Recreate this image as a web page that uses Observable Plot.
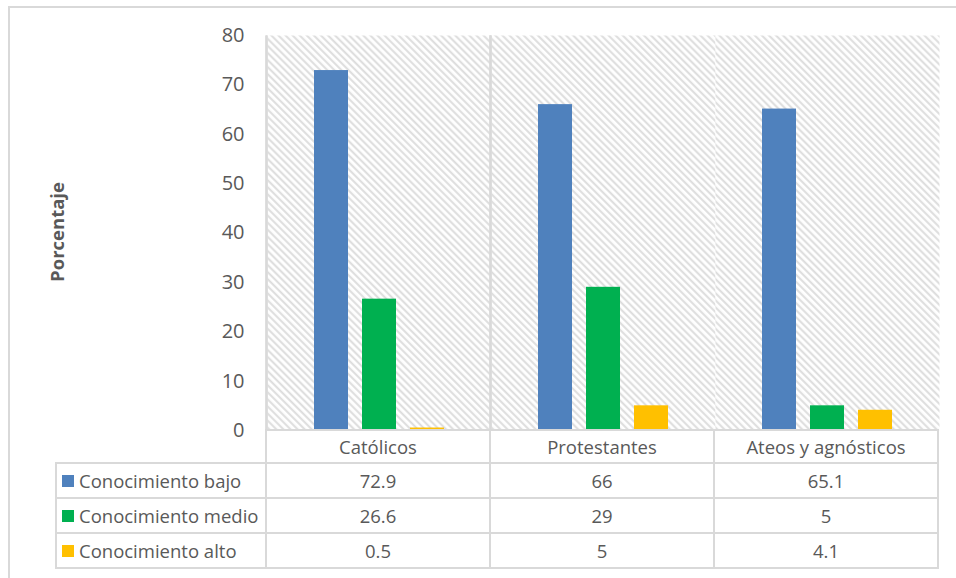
<!DOCTYPE html>
<html>
<head>
<meta charset="utf-8">
<script src="https://cdn.jsdelivr.net/npm/d3@7"></script>
<script src="https://cdn.jsdelivr.net/npm/@observablehq/plot@0.6"></script>
<style>
  html, body { margin: 0; padding: 0; background: #fff; }
  #wrap { position: relative; width: 956px; height: 578px; overflow: hidden; font-family: "Open Sans", sans-serif; }
  #border { position: absolute; left: 8px; top: 6px; width: 960px; height: 620px; border: 2px solid #d9d9d9; box-sizing: border-box; }
  #chart { position: absolute; left: 0; top: 0; }
  table.dt { position: absolute; left: 55px; top: 429px; border-collapse: collapse; table-layout: fixed;
    font-family: "Open Sans", sans-serif; font-size: 18.5px; color: #595959; }
  table.dt td { border: 2px solid #d9d9d9; text-align: center; padding: 0; height: 33px; white-space: nowrap; }
  table.dt tr.hdr td { height: 31px; }
  table.dt td.blank { border-top: none; border-left: none; }
  table.dt td.leg { text-align: left; padding-left: 5px; }
  .sw { display: inline-block; width: 12px; height: 12px; margin-right: 5px; vertical-align: 1px; }
</style>
</head>
<body>
<div id="wrap">
  <div id="border"></div>
  <div id="chart"></div>
</div>
<script>
const categories = ["Católicos", "Protestantes", "Ateos y agnósticos"];
const series = ["Conocimiento bajo", "Conocimiento medio", "Conocimiento alto"];
const bajo = [72.9, 66, 65.1];
const medio = [26.6, 29, 5];
const alto = [0.5, 5, 4.1];
const colors = ["#4F81BD", "#00B050", "#FFC000"];
const yTicks = [0, 10, 20, 30, 40, 50, 60, 70, 80];
const yLabel = "Porcentaje";

const valuesBySeries = [bajo, medio, alto];
const data = [];
categories.forEach((c, i) => {
  series.forEach((s, j) => data.push({cat: c, series: s, value: valuesBySeries[j][i]}));
});

const plot = Plot.plot({
  width: 956,
  height: 578,
  marginLeft: 266,
  marginRight: 17,
  marginTop: 35,
  marginBottom: 148,
  style: {fontFamily: "'Open Sans', sans-serif", fontSize: "20px", color: "#595959", background: "transparent"},
  fx: {domain: categories, padding: 0, axis: null},
  x: {domain: series, paddingInner: 0.3, paddingOuter: 0.94, axis: null},
  y: {domain: [0, 80], ticks: yTicks, tickSize: 0, tickPadding: 23, label: null, tickFormat: d => String(d)},
  color: {domain: series, range: colors},
  marks: [
    Plot.frame({fill: "url(#hatch)", stroke: "none"}),
    Plot.barY(data, {fx: "cat", x: "series", y: "value", fill: "series"})
  ]
});

const svg = d3.select(plot);
const defs = svg.insert("defs", ":first-child");
const pat = defs.append("pattern").attr("id", "hatch").attr("patternUnits", "userSpaceOnUse")
  .attr("width", 5).attr("height", 5).attr("patternTransform", "rotate(-45)");
pat.append("rect").attr("width", 5).attr("height", 5).attr("fill", "#fff");
pat.append("line").attr("x1", 1.2).attr("y1", 0).attr("x2", 1.2).attr("y2", 5)
  .attr("stroke", "#dcdcdc").attr("stroke-width", 2);

// separators at facet edges
svg.selectAll("rect").filter(function() { return this.getAttribute("fill") === "url(#hatch)"; }).each(function() {
  const r = this;
  const g = r.parentNode;
  const x = +r.getAttribute("x"), y = +r.getAttribute("y"), w = +r.getAttribute("width"), h = +r.getAttribute("height");
  [x, x + w].forEach(xx => {
    d3.select(g).append("line").attr("x1", xx).attr("x2", xx).attr("y1", y).attr("y2", y + h)
      .attr("stroke", "#d9d9d9").attr("stroke-width", 2);
  });
});

// y axis label
svg.append("text").attr("transform", "translate(64,232) rotate(-90)")
  .attr("text-anchor", "middle").attr("font-weight", "bold").attr("font-size", 18.5)
  .attr("fill", "#595959").text(yLabel);

document.getElementById("chart").appendChild(plot);

// data table
const table = document.createElement("table");
table.className = "dt";
const cg = document.createElement("colgroup");
[210, 224, 224, 224].forEach(w => { const c = document.createElement("col"); c.style.width = w + "px"; cg.appendChild(c); });
table.appendChild(cg);
const hdr = document.createElement("tr");
hdr.className = "hdr";
const blank = document.createElement("td"); blank.className = "blank"; hdr.appendChild(blank);
categories.forEach(c => { const td = document.createElement("td"); td.textContent = c; hdr.appendChild(td); });
table.appendChild(hdr);
series.forEach((s, j) => {
  const tr = document.createElement("tr");
  const lg = document.createElement("td"); lg.className = "leg";
  const sw = document.createElement("span"); sw.className = "sw"; sw.style.background = colors[j];
  lg.appendChild(sw); lg.appendChild(document.createTextNode(s));
  tr.appendChild(lg);
  valuesBySeries[j].forEach(v => { const td = document.createElement("td"); td.textContent = String(v); tr.appendChild(td); });
  table.appendChild(tr);
});
document.getElementById("wrap").appendChild(table);
</script>
</body>
</html>
